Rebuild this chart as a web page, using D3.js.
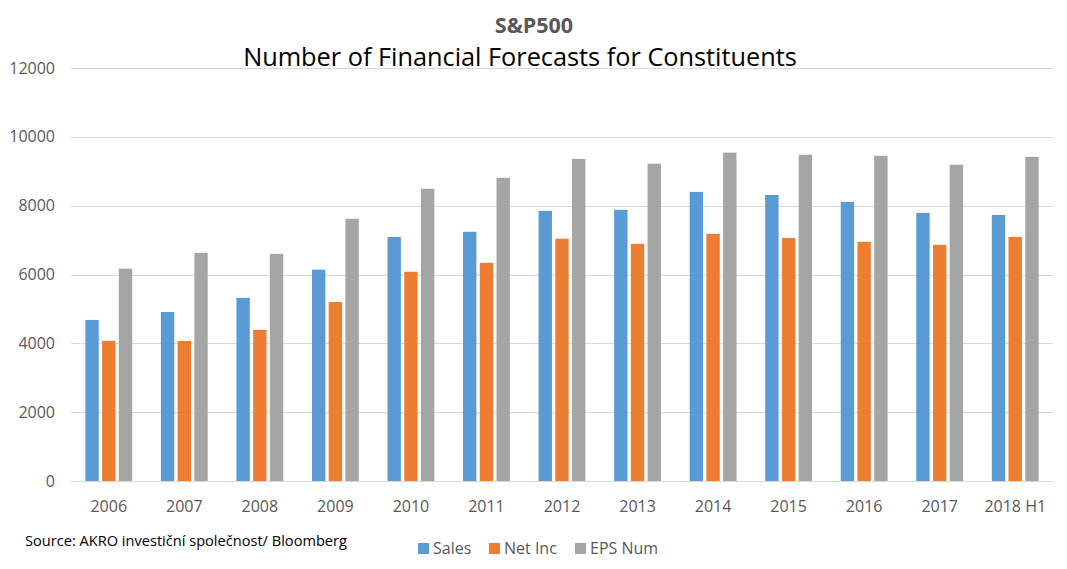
<!DOCTYPE html>
<html>
<head>
<meta charset="utf-8">
<script src="https://cdnjs.cloudflare.com/ajax/libs/d3/7.8.5/d3.min.js"></script>
<style>
  body { margin: 0; background: #fff; }
  svg { font-family: "Open Sans", sans-serif; }
</style>
</head>
<body>
<svg id="chart" width="1067" height="569"></svg>
<script>
(function() {

  'use strict';

  // data
  var years = ['2006', '2007', '2008', '2009', '2010', '2011', '2012', '2013', '2014', '2015', '2016', '2017', '2018 H1'];
  var seriesNames = ['Sales', 'Net Inc', 'EPS Num'];
  var sales  = [4680, 4910, 5320, 6140, 7090, 7240, 7850, 7880, 8400, 8310, 8110, 7790, 7730];
  var netInc = [4070, 4070, 4390, 5200, 6080, 6340, 7040, 6890, 7180, 7060, 6950, 6860, 7090];
  var epsNum = [6170, 6630, 6600, 7620, 8490, 8810, 9360, 9220, 9540, 9480, 9450, 9190, 9420];
  var yTicks = [0, 2000, 4000, 6000, 8000, 10000, 12000];
  var colours = ['#5b9bd5', '#ed7d31', '#a5a5a5'];

  var svg = d3.select('#chart');
  var left = 71, right = 1053, top = 68, bottom = 481;

  var x = d3.scaleBand().domain(years).range([left, right]);
  var x1 = d3.scaleBand().domain(seriesNames)
    .range([0, x.bandwidth() * 0.62]).paddingInner(0.2);
  var groupOffset = (x.bandwidth() - x.bandwidth() * 0.62) / 2;
  var y = d3.scaleLinear().domain([0, 12000]).range([bottom, top]);

  // gridlines
  svg.append('g')
    .selectAll('line')
    .data(yTicks)
    .join('line')
    .attr('x1', left).attr('x2', right)
    .attr('y1', function(d) { return Math.round(y(d)) + 0.5; })
    .attr('y2', function(d) { return Math.round(y(d)) + 0.5; })
    .attr('stroke', '#d9d9d9')
    .attr('stroke-width', 1);

  // y axis labels
  var yAxis = svg.append('g')
    .attr('transform', 'translate(' + (left - 16) + ',0)')
    .call(d3.axisLeft(y).tickValues(yTicks).tickSize(0).tickPadding(0).tickFormat(d3.format('d')));
  yAxis.select('.domain').remove();
  yAxis.selectAll('text')
    .attr('fill', '#595959')
    .style('font-size', '16px')
    .style('font-family', '"Open Sans", sans-serif');

  // x axis labels
  var xAxis = svg.append('g')
    .attr('transform', 'translate(0,' + bottom + ')')
    .call(d3.axisBottom(x).tickSize(0).tickPadding(20));
  xAxis.select('.domain').remove();
  xAxis.selectAll('text')
    .attr('fill', '#595959')
    .style('font-size', '16px')
    .style('font-family', '"Open Sans", sans-serif');

  // bars
  var all = [sales, netInc, epsNum];
  var groups = svg.append('g')
    .selectAll('g')
    .data(years)
    .join('g')
    .attr('transform', function(d) { return 'translate(' + (x(d) + groupOffset) + ',0)'; });

  groups.selectAll('rect')
    .data(function(d, i) {
      return seriesNames.map(function(s, k) { return { key: s, value: all[k][i], k: k }; });
    })
    .join('rect')
    .attr('x', function(d) { return x1(d.key); })
    .attr('width', x1.bandwidth())
    .attr('y', function(d) { return y(d.value); })
    .attr('height', function(d) { return bottom - y(d.value); })
    .attr('fill', function(d) { return colours[d.k]; });

  // titles
  svg.append('text')
    .attr('x', 534).attr('y', 33)
    .attr('text-anchor', 'middle')
    .attr('fill', '#595959')
    .style('font-size', '21.5px')
    .style('font-weight', 'bold')
    .text('S&P500');

  svg.append('text')
    .attr('x', 520).attr('y', 66)
    .attr('text-anchor', 'middle')
    .attr('fill', '#000')
    .style('font-size', '25.3px')
    .text('Number of Financial Forecasts for Constituents');

  // source
  svg.append('text')
    .attr('x', 25).attr('y', 546)
    .attr('fill', '#000')
    .style('font-size', '14.6px')
    .text('Source: AKRO investiční společnost/ Bloomberg');

  // legend
  var legendX = [418, 489, 575];
  var legend = svg.append('g')
    .selectAll('g')
    .data(seriesNames)
    .join('g')
    .attr('transform', function(d, i) { return 'translate(' + legendX[i] + ',548)'; });
  legend.append('rect')
    .attr('x', 0).attr('y', -5)
    .attr('width', 11).attr('height', 11)
    .attr('fill', function(d, i) { return colours[i]; });
  legend.append('text')
    .attr('x', 15).attr('y', 5.5)
    .attr('fill', '#595959')
    .style('font-size', '16px')
    .text(function(d) { return d; });

})();
</script>
</body>
</html>
